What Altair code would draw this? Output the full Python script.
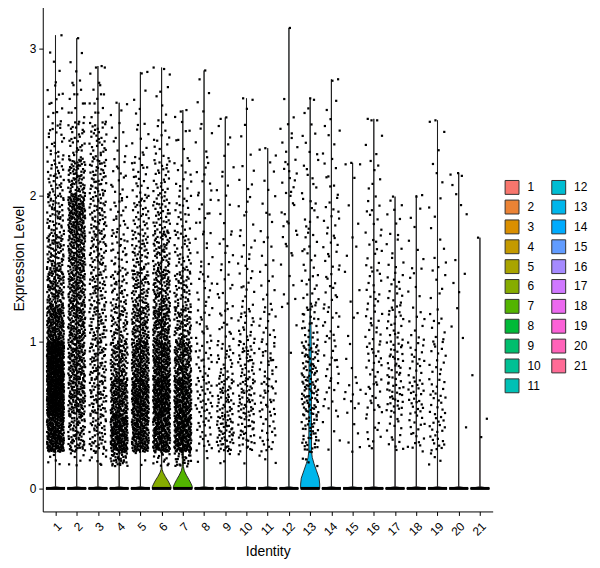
import math
import altair as alt
import pandas as pd

# ---------------- data ----------------
CLUSTERS = list(range(1, 22))

# bins for non-zero expression values (lower edge of first bin = smallest observed value)
BIN_EDGES = [0.15, 0.25, 0.5, 0.75, 1.0, 1.25, 1.5, 1.75, 2.0, 2.25, 2.5, 2.75, 3.0, 3.25]

# estimated number of cells per bin (non-zero values) for each identity
BIN_COUNTS = {
    1:  [5, 240, 380, 350, 180, 110, 75, 50, 35, 22, 12, 4, 0],
    2:  [6, 80, 120, 130, 130, 125, 130, 150, 80, 30, 12, 5, 0],
    3:  [8, 50, 60, 60, 55, 50, 48, 48, 45, 32, 12, 4, 0],
    4:  [35, 220, 160, 100, 60, 40, 28, 20, 14, 8, 3, 0, 0],
    5:  [3, 180, 210, 160, 105, 70, 45, 32, 20, 10, 4, 1, 0],
    6:  [15, 210, 230, 180, 130, 90, 62, 40, 26, 13, 6, 2, 0],
    7:  [25, 230, 200, 135, 75, 46, 30, 20, 12, 7, 2, 0, 0],
    8:  [2, 22, 28, 22, 16, 12, 10, 10, 8, 6, 3, 1, 0],
    9:  [3, 55, 45, 25, 15, 10, 8, 6, 5, 4, 1, 0, 0],
    10: [2, 35, 45, 35, 22, 12, 9, 7, 5, 3, 2, 0, 0],
    11: [3, 20, 25, 22, 14, 8, 6, 6, 4, 2, 0, 0, 0],
    12: [0, 0, 0, 1, 2, 5, 7, 9, 12, 7, 2, 0, 0],
    13: [5, 40, 55, 45, 25, 14, 12, 10, 8, 6, 3, 0, 0],
    14: [0, 5, 10, 13, 14, 12, 12, 10, 8, 5, 3, 1, 0],
    15: [0, 5, 10, 4, 3, 3, 3, 2, 2, 1, 0, 0, 0],
    16: [0, 10, 18, 18, 16, 14, 12, 9, 6, 3, 2, 0, 0],
    17: [0, 15, 30, 28, 22, 14, 10, 6, 0, 0, 0, 0, 0],
    18: [0, 18, 25, 18, 10, 6, 4, 3, 1, 0, 0, 0, 0],
    19: [4, 22, 20, 14, 10, 6, 5, 4, 3, 2, 1, 0, 0],
    20: [0, 1, 0, 0, 3, 3, 1, 2, 4, 0, 0, 0, 0],
    21: [0, 2, 0, 1, 0, 0, 0, 0, 0, 0, 0, 0, 0],
}

# highest value per identity (top of each violin)
MAX_VALUE = [3.09, 3.07, 2.88, 2.63, 2.84, 2.87, 2.58, 2.85, 2.53, 2.66, 2.32,
             3.14, 2.66, 2.79, 2.22, 2.52, 1.99, 2.00, 2.51, 2.15, 1.71]

# violin profiles (value level, half width in identity units); most identities are
# almost all zeros, so their violin is a flat base with a hairline up to the max
DEFAULT_LEVELS = [0.0, 0.012]
DEFAULT_HALFWIDTHS = [0.45, 0.004]
VIOLIN_LEVELS = {
    6:  [0.0, 0.015, 0.03, 0.05, 0.08, 0.11, 0.13, 0.16],
    7:  [0.0, 0.015, 0.035, 0.06, 0.09, 0.12, 0.15, 0.3, 1.0, 1.2],
    13: [0.0, 0.03, 0.07, 0.12, 0.17, 0.21, 0.25, 0.5, 0.8, 1.0, 1.1, 1.15, 1.25],
}
VIOLIN_HALFWIDTHS = {
    6:  [0.45, 0.43, 0.38, 0.31, 0.18, 0.07, 0.025, 0.008],
    7:  [0.45, 0.44, 0.38, 0.29, 0.17, 0.07, 0.025, 0.02, 0.02, 0.004],
    13: [0.45, 0.45, 0.42, 0.3, 0.18, 0.1, 0.065, 0.062, 0.058, 0.05, 0.04, 0.02, 0.008],
}
TOP_HALFWIDTH = 0.001

Y_TICKS = [0, 1, 2, 3]


# ---------------- ggplot default hue palette ----------------
def hcl_hex(h, c=100.0, l=65.0):
    hr = math.radians(h)
    u, v = c * math.cos(hr), c * math.sin(hr)
    Y = ((l + 16) / 116) ** 3
    Xn, Yn, Zn = 0.95047, 1.0, 1.08883
    den = Xn + 15 * Yn + 3 * Zn
    un, vn = 4 * Xn / den, 9 * Yn / den
    up, vp = u / (13 * l) + un, v / (13 * l) + vn
    X = 9 * Y * up / (4 * vp)
    Z = (12 - 3 * up - 20 * vp) * Y / (4 * vp)
    rgb = [3.2404542 * X - 1.5371385 * Y - 0.4985314 * Z,
           -0.9692660 * X + 1.8760108 * Y + 0.0415560 * Z,
           0.0556434 * X - 0.2040259 * Y + 1.0572252 * Z]
    out = []
    for ch in rgb:
        ch = 12.92 * ch if ch <= 0.0031308 else 1.055 * (max(ch, 0) ** (1 / 2.4)) - 0.055
        out.append(int(round(min(max(ch, 0.0), 1.0) * 255)))
    return "#%02X%02X%02X" % tuple(out)


n = len(CLUSTERS)
PALETTE = [hcl_hex(15 + i * 360.0 / n) for i in range(n)]


def halton(i, base):
    f, r = 1.0, 0.0
    while i > 0:
        f /= base
        r += f * (i % base)
        i //= base
    return r


# ---------------- tables ----------------
vrows = []
for i, c in enumerate(CLUSTERS):
    lv = VIOLIN_LEVELS.get(c, DEFAULT_LEVELS) + [MAX_VALUE[i]]
    hw = VIOLIN_HALFWIDTHS.get(c, DEFAULT_HALFWIDTHS) + [TOP_HALFWIDTH]
    for L, w in zip(lv, hw):
        vrows.append({"cluster": str(c), "level": L, "left": c - w, "right": c + w})
violin_df = pd.DataFrame(vrows)

zero_df = pd.DataFrame({"cluster": [str(c) for c in CLUSTERS],
                        "left": [c - 0.45 for c in CLUSTERS],
                        "right": [c + 0.45 for c in CLUSTERS],
                        "level": [0.0] * n})

# expand the binned counts into jittered cells (deterministic Halton jitter)
prow = []
for i, c in enumerate(CLUSTERS):
    j = 17 * c
    top = MAX_VALUE[i]
    for b, cnt in enumerate(BIN_COUNTS[c]):
        lo, hi = BIN_EDGES[b], BIN_EDGES[b + 1]
        for k in range(cnt):
            j += 1
            u = halton(j, 2)
            v = halton(j, 3)
            y = min(lo + u * (hi - lo), top - 0.01)
            prow.append({"x": c + (v * 0.8 - 0.4), "y": y})
    v = halton(j + 1, 3)
    prow.append({"x": c + (v * 0.8 - 0.4), "y": top})
points_df = pd.DataFrame(prow)

# ---------------- chart ----------------
FONT = "Liberation Sans"
x_scale = alt.Scale(domain=[0.4, 21.6], nice=False, zero=False)
y_scale = alt.Scale(domain=[-0.157, 3.297], nice=False, zero=False)

x_axis = alt.Axis(values=CLUSTERS, format="d", title="Identity", labelAngle=315,
                  labelAlign="right", labelBaseline="top", tickSize=4, grid=False,
                  labelPadding=5, titlePadding=7, labelOverlap=False)
y_axis = alt.Axis(values=Y_TICKS, format="d", title="Expression Level", tickSize=4,
                  grid=False, labelPadding=3, titleX=-19.5, titleY=255,
                  titleBaseline="alphabetic", titleAngle=270)

violin = alt.Chart(violin_df).mark_area(
    orient="horizontal", stroke="#1a1a1a", strokeWidth=0.9, fillOpacity=1
).encode(
    y=alt.Y("level:Q", scale=y_scale, axis=y_axis),
    x=alt.X("left:Q", scale=x_scale, axis=x_axis, stack=False),
    x2="right:Q",
    color=alt.Color(
        "cluster:N",
        scale=alt.Scale(domain=[str(c) for c in CLUSTERS], range=PALETTE),
        legend=alt.Legend(title=None, orient="none", legendX=465, legendY=176,
                          columns=2, symbolType="square", symbolSize=196,
                          symbolStrokeColor="#333333", symbolStrokeWidth=1,
                          symbolOpacity=1, labelFontSize=12, labelFont=FONT,
                          labelColor="black", labelOffset=8, rowPadding=1,
                          columnPadding=8),
    ),
)

zero_line = alt.Chart(zero_df).mark_rule(color="black", strokeWidth=3).encode(
    x=alt.X("left:Q", scale=x_scale, axis=x_axis), x2="right:Q",
    y=alt.Y("level:Q", scale=y_scale, axis=y_axis))

points = alt.Chart(points_df).mark_square(size=5, color="black", opacity=1).encode(
    x=alt.X("x:Q", scale=x_scale, axis=x_axis),
    y=alt.Y("y:Q", scale=y_scale, axis=y_axis))

chart = alt.layer(violin, zero_line, points).properties(
    width=453, height=510,
    padding={"left": 35, "top": -5, "right": 100, "bottom": 50},
    autosize=alt.AutoSizeParams(type="none"),
).configure_view(stroke="transparent").configure_axis(
    domainColor="black", tickColor="black", labelColor="black", titleColor="black",
    labelFont=FONT, titleFont=FONT, labelFontSize=12, titleFontSize=14,
    titleFontWeight="normal", domainWidth=1, tickWidth=1,
).configure_axisX(labelOverlap=False)

chart.save("out.html", embed_options={"renderer": "svg", "actions": False})
